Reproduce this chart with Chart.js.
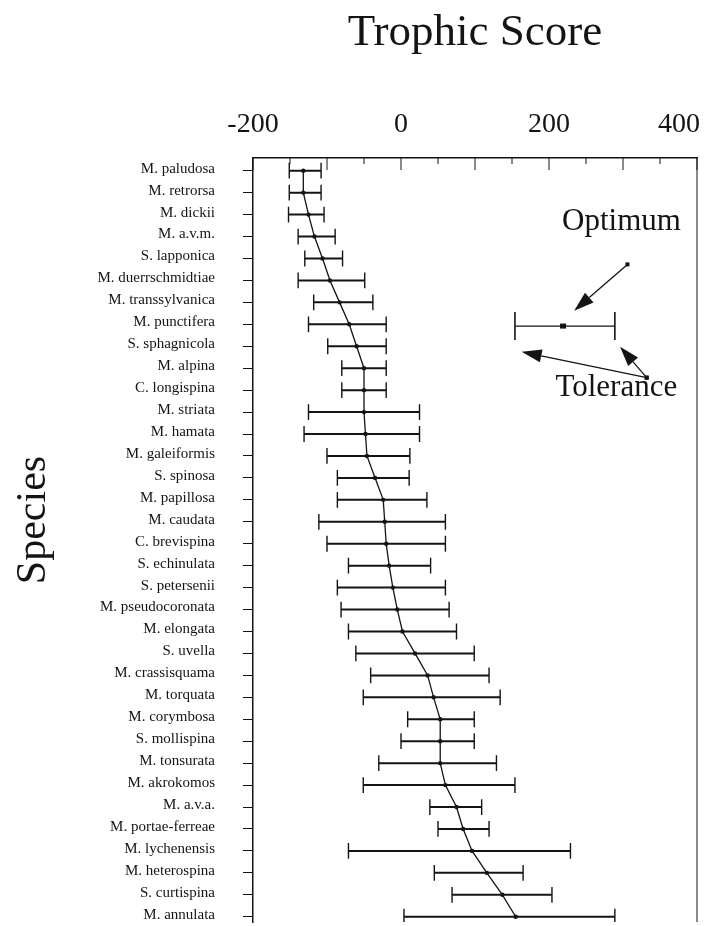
<!DOCTYPE html>
<html>
<head>
<meta charset="utf-8">
<script src="https://cdn.jsdelivr.net/npm/chart.js@4.4.1/dist/chart.umd.min.js"></script>
<style>
    html, body { margin: 0; padding: 0; background: #fff; overflow: hidden; }
    canvas { display: block; }
</style>
</head>
<body>
<canvas id="chart" width="710" height="926"></canvas>
<script>
const species = [
    "M. paludosa", "M. retrorsa", "M. dickii", "M. a.v.m.", "S. lapponica",
    "M. duerrschmidtiae", "M. transsylvanica", "M. punctifera", "S. sphagnicola",
    "M. alpina", "C. longispina", "M. striata", "M. hamata", "M. galeiformis",
    "S. spinosa", "M. papillosa", "M. caudata", "C. brevispina", "S. echinulata",
    "S. petersenii", "M. pseudocoronata", "M. elongata", "S. uvella",
    "M. crassisquama", "M. torquata", "M. corymbosa", "S. mollispina",
    "M. tonsurata", "M. akrokomos", "M. a.v.a.", "M. portae-ferreae",
    "M. lychenensis", "M. heterospina", "S. curtispina", "M. annulata",
];
const optimum = [-132, -132, -125, -117, -106, -96, -83, -70, -60, -50, -50, -50, -48, -46, -35,
    -24, -22, -20, -16, -11, -5, 2, 19, 36, 44, 53, 53, 53, 60, 75, 84, 96, 116, 137, 155];
const lower = [-151, -151, -152, -139, -130, -139, -118, -125, -99, -80, -80, -125, -131, -100, -86,
    -86, -111, -100, -71, -86, -81, -71, -61, -41, -51, 9, 0, -30, -51, 39, 50, -71, 45, 69, 4];
const upper = [-108, -108, -104, -89, -79, -49, -38, -20, -20, -20, -20, 25, 25, 12, 11,
    35, 60, 60, 40, 60, 65, 75, 99, 119, 134, 99, 99, 129, 154, 109, 119, 229, 165, 204, 289];
const xLabels = [-200, 0, 200, 400];

// explanatory key, upper right (x in score units, y in rows)
const keyRange = [154, 219, 289];
const keyRow = 7.08;
const keyArrows = [
    [[306, 4.27], [234, 6.38]],
    [[332, 9.43], [163, 8.25]],
    [[332, 9.43], [296, 8.02]],
];
const keyTexts = [["Optimum", 298, 2.7], ["Tolerance", 291, 10.27]];

const ink = "#141414";
const serif = "'Liberation Serif', 'Times New Roman', serif";
const capHalf = 0.36;

const bars = [];
const caps = [];
species.forEach((s, i) => {
    bars.push({ x: lower[i], y: i }, { x: upper[i], y: i }, { x: null, y: null });
    [lower[i], upper[i]].forEach((v) => {
        caps.push({ x: v, y: i - capHalf }, { x: v, y: i + capHalf }, { x: null, y: null });
    });
});
const optLine = optimum.map((v, i) => ({ x: v, y: i }));

function arrow(ctx, x1, y1, x2, y2) {
    const a = Math.atan2(y2 - y1, x2 - x1);
    const len = 20, half = 6.5;
    const bx = x2 - len * Math.cos(a), by = y2 - len * Math.sin(a);
    ctx.beginPath();
    ctx.moveTo(x1, y1);
    ctx.lineTo(bx, by);
    ctx.stroke();
    ctx.beginPath();
    ctx.moveTo(x2, y2);
    ctx.lineTo(bx + half * Math.sin(a), by - half * Math.cos(a));
    ctx.lineTo(bx - half * Math.sin(a), by + half * Math.cos(a));
    ctx.closePath();
    ctx.fill();
    ctx.fillRect(x1 - 2, y1 - 2, 4, 4);
}

const extras = {
    id: "extras",
    afterDraw(chart) {
        const { ctx, chartArea, scales } = chart;
        const x = scales.x, y = scales.y;
        ctx.save();
        ctx.strokeStyle = ink;
        ctx.fillStyle = ink;

        // right frame line
        ctx.lineWidth = 1;
        ctx.beginPath();
        ctx.moveTo(chartArea.right, chartArea.top);
        ctx.lineTo(chartArea.right, chartArea.bottom);
        ctx.stroke();

        // inward tick marks on the top axis
        ctx.lineWidth = 1;
        x.ticks.forEach((t) => {
            const px = x.getPixelForValue(t.value);
            const l = t.value % 100 === 0 ? 12 : 6;
            ctx.beginPath();
            ctx.moveTo(px, chartArea.top);
            ctx.lineTo(px, chartArea.top + l);
            ctx.stroke();
        });

        // top axis numbers, the last one kept inside the page
        ctx.font = "28px " + serif;
        ctx.textAlign = "center";
        ctx.textBaseline = "alphabetic";
        xLabels.forEach((v) => {
            const txt = String(v);
            const w = ctx.measureText(txt).width;
            const px = Math.min(x.getPixelForValue(v), chartArea.right + 3 - w / 2);
            ctx.fillText(txt, px, 132);
        });

        // key error bar
        const ky = y.getPixelForValue(keyRow);
        const kl = x.getPixelForValue(keyRange[0]);
        const ko = x.getPixelForValue(keyRange[1]);
        const kr = x.getPixelForValue(keyRange[2]);
        ctx.lineWidth = 1.3;
        ctx.beginPath();
        ctx.moveTo(kl, ky);
        ctx.lineTo(kr, ky);
        ctx.stroke();
        ctx.lineWidth = 1.6;
        [kl, kr].forEach((px) => {
            ctx.beginPath();
            ctx.moveTo(px, ky - 14);
            ctx.lineTo(px, ky + 14);
            ctx.stroke();
        });
        ctx.fillRect(ko - 3, ky - 2.5, 6, 5);

        // arrows
        ctx.lineWidth = 1.3;
        keyArrows.forEach(([from, to]) => {
            arrow(ctx,
                x.getPixelForValue(from[0]), y.getPixelForValue(from[1]),
                x.getPixelForValue(to[0]), y.getPixelForValue(to[1]));
        });

        // key labels
        ctx.font = "31px " + serif;
        keyTexts.forEach(([txt, vx, vy]) => {
            ctx.fillText(txt, x.getPixelForValue(vx), y.getPixelForValue(vy));
        });

        // vertical axis title
        ctx.save();
        ctx.translate(45, 520);
        ctx.rotate(-Math.PI / 2);
        ctx.font = "42px " + serif;
        ctx.fillText("Species", 0, 0);
        ctx.restore();

        ctx.restore();
    },
};

new Chart(document.getElementById("chart"), {
    type: "scatter",
    data: {
        datasets: [
            {
                data: bars,
                showLine: true,
                borderColor: ink,
                borderWidth: 2,
                pointRadius: 0,
                spanGaps: false,
            },
            {
                data: caps,
                showLine: true,
                borderColor: ink,
                borderWidth: 1.4,
                pointRadius: 0,
                spanGaps: false,
            },
            {
                data: optLine,
                showLine: true,
                borderColor: ink,
                borderWidth: 1.3,
                pointRadius: 2.2,
                pointBackgroundColor: ink,
                pointBorderWidth: 0,
            },
        ],
    },
    options: {
        responsive: false,
        animation: false,
        layout: { padding: { left: 0, right: 13, top: 0, bottom: 0 } },
        plugins: {
            legend: { display: false },
            tooltip: { enabled: false },
        },
        scales: {
            x: {
                type: "linear",
                position: "top",
                min: -200,
                max: 400,
                afterFit: (scale) => {
                    scale.height = 158;
                    scale.paddingLeft = 0;
                    scale.paddingRight = 0;
                },
                ticks: { stepSize: 50, display: false },
                grid: { display: false, drawTicks: false },
                border: { display: true, color: ink, width: 1.5 },
                title: {
                    display: true,
                    text: "Trophic Score",
                    color: ink,
                    font: { family: serif, size: 45 },
                    padding: { top: 6, bottom: 0 },
                },
            },
            y: {
                type: "linear",
                reverse: true,
                min: -0.58,
                max: 34.24,
                afterFit: (scale) => {
                    scale.width = 253;
                    scale.paddingTop = 0;
                    scale.paddingBottom = 0;
                },
                afterBuildTicks: (scale) => {
                    scale.ticks = species.map((s, i) => ({ value: i }));
                },
                ticks: {
                    autoSkip: false,
                    padding: 28,
                    labelOffset: -2,
                    color: ink,
                    font: { family: serif, size: 15 },
                    callback: (v, i) => species[i],
                },
                grid: { drawOnChartArea: false, tickLength: 10, color: ink, lineWidth: 1 },
                border: { display: true, color: ink, width: 1.5 },
            },
        },
    },
    plugins: [extras],
});
</script>
</body>
</html>
